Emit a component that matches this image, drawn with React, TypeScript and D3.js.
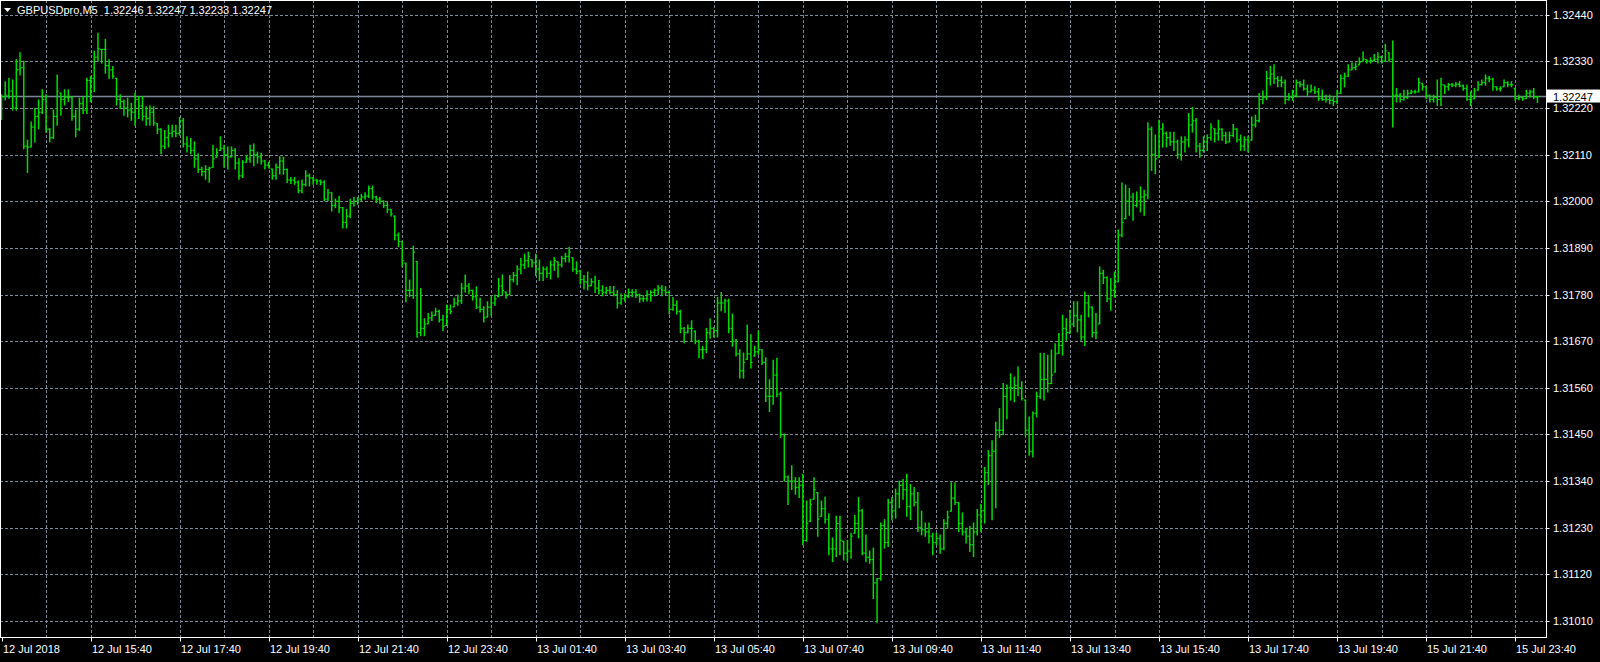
import React from 'react';
import * as d3 from 'd3';

// GBPUSDpro M5 bars (prices)
const symbol = 'GBPUSDpro,M5';
const lastQuote = ['1.32246', '1.32247', '1.32233', '1.32247'];
const bidPrice = 1.32247;
const firstOpen = 1.3223;

const highs = [
  1.32251, 1.32282, 1.32290, 1.32286, 1.32334, 1.32350, 1.32330, 1.32144, 1.32187, 1.32219,
  1.32239, 1.32263, 1.32251, 1.32171, 1.32215, 1.32298, 1.32255, 1.32263, 1.32263, 1.32247,
  1.32215, 1.32243, 1.32247, 1.32290, 1.32294, 1.32354, 1.32396, 1.32358, 1.32382, 1.32334,
  1.32318, 1.32290, 1.32251, 1.32239, 1.32243, 1.32231, 1.32255, 1.32247, 1.32247, 1.32223,
  1.32225, 1.32223, 1.32183, 1.32171, 1.32167, 1.32179, 1.32179, 1.32179, 1.32198, 1.32195,
  1.32152, 1.32148, 1.32140, 1.32112, 1.32080, 1.32084, 1.32080, 1.32132, 1.32124, 1.32152,
  1.32132, 1.32128, 1.32128, 1.32124, 1.32100, 1.32096, 1.32108, 1.32132, 1.32135, 1.32116,
  1.32113, 1.32096, 1.32092, 1.32076, 1.32088, 1.32105, 1.32104, 1.32076, 1.32056, 1.32056,
  1.32048, 1.32050, 1.32072, 1.32064, 1.32056, 1.32052, 1.32050, 1.32048, 1.32028, 1.32020,
  1.32005, 1.32012, 1.31985, 1.31981, 1.32005, 1.32009, 1.32009, 1.32016, 1.32020, 1.32036,
  1.32036, 1.32012, 1.32009, 1.32001, 1.31997, 1.31981, 1.31965, 1.31925, 1.31905, 1.31854,
  1.31814, 1.31894, 1.31858, 1.31794, 1.31723, 1.31735, 1.31739, 1.31747, 1.31743, 1.31731,
  1.31755, 1.31755, 1.31771, 1.31779, 1.31806, 1.31826, 1.31806, 1.31790, 1.31798, 1.31771,
  1.31751, 1.31763, 1.31775, 1.31779, 1.31818, 1.31826, 1.31786, 1.31825, 1.31832, 1.31848,
  1.31865, 1.31875, 1.31880, 1.31862, 1.31875, 1.31861, 1.31845, 1.31845, 1.31859, 1.31867,
  1.31857, 1.31870, 1.31877, 1.31891, 1.31867, 1.31857, 1.31837, 1.31825, 1.31833, 1.31817,
  1.31823, 1.31813, 1.31801, 1.31797, 1.31799, 1.31799, 1.31789, 1.31781, 1.31781, 1.31793,
  1.31791, 1.31791, 1.31781, 1.31777, 1.31789, 1.31789, 1.31793, 1.31801, 1.31801, 1.31799,
  1.31789, 1.31773, 1.31765, 1.31743, 1.31702, 1.31708, 1.31718, 1.31694, 1.31672, 1.31658,
  1.31700, 1.31722, 1.31702, 1.31773, 1.31785, 1.31769, 1.31769, 1.31734, 1.31674, 1.31650,
  1.31642, 1.31708, 1.31685, 1.31658, 1.31694, 1.31650, 1.31631, 1.31579, 1.31625, 1.31630,
  1.31550, 1.31451, 1.31352, 1.31376, 1.31348, 1.31348, 1.31356, 1.31293, 1.31297, 1.31348,
  1.31313, 1.31293, 1.31302, 1.31263, 1.31206, 1.31257, 1.31257, 1.31198, 1.31200, 1.31217,
  1.31259, 1.31301, 1.31273, 1.31213, 1.31175, 1.31182, 1.31110, 1.31241, 1.31249, 1.31297,
  1.31301, 1.31321, 1.31340, 1.31344, 1.31356, 1.31332, 1.31325, 1.31313, 1.31269, 1.31241,
  1.31241, 1.31217, 1.31217, 1.31213, 1.31249, 1.31269, 1.31336, 1.31336, 1.31289, 1.31265,
  1.31229, 1.31233, 1.31241, 1.31273, 1.31285, 1.31372, 1.31412, 1.31435, 1.31479, 1.31511,
  1.31570, 1.31566, 1.31593, 1.31585, 1.31609, 1.31574, 1.31531, 1.31491, 1.31503, 1.31550,
  1.31641, 1.31641, 1.31637, 1.31649, 1.31664, 1.31688, 1.31731, 1.31723, 1.31743, 1.31763,
  1.31763, 1.31731, 1.31786, 1.31778, 1.31751, 1.31735, 1.31845, 1.31837, 1.31822, 1.31818,
  1.31833, 1.31932, 1.32043, 1.32038, 1.32030, 1.32018, 1.32022, 1.32034, 1.32026, 1.32185,
  1.32175, 1.32156, 1.32191, 1.32183, 1.32163, 1.32163, 1.32163, 1.32144, 1.32152, 1.32152,
  1.32207, 1.32221, 1.32195, 1.32136, 1.32152, 1.32156, 1.32183, 1.32171, 1.32191, 1.32171,
  1.32163, 1.32163, 1.32181, 1.32171, 1.32156, 1.32152, 1.32152, 1.32199, 1.32203, 1.32254,
  1.32260, 1.32306, 1.32318, 1.32322, 1.32294, 1.32294, 1.32286, 1.32254, 1.32262, 1.32286,
  1.32282, 1.32286, 1.32274, 1.32274, 1.32270, 1.32266, 1.32262, 1.32250, 1.32250, 1.32246,
  1.32262, 1.32298, 1.32302, 1.32322, 1.32326, 1.32326, 1.32338, 1.32352, 1.32334, 1.32338,
  1.32346, 1.32350, 1.32342, 1.32370, 1.32350, 1.32378, 1.32266, 1.32254, 1.32262, 1.32262,
  1.32262, 1.32262, 1.32290, 1.32278, 1.32270, 1.32250, 1.32250, 1.32286, 1.32290, 1.32274,
  1.32278, 1.32278, 1.32280, 1.32282, 1.32274, 1.32274, 1.32258, 1.32266, 1.32282, 1.32286,
  1.32298, 1.32294, 1.32290, 1.32270, 1.32270, 1.32286, 1.32282, 1.32282, 1.32266, 1.32250,
  1.32246, 1.32262, 1.32262, 1.32266, 1.32247,
];

const lows = [
  1.32193, 1.32239, 1.32243, 1.32215, 1.32215, 1.32298, 1.32124, 1.32068, 1.32128, 1.32140,
  1.32171, 1.32207, 1.32163, 1.32140, 1.32148, 1.32179, 1.32203, 1.32227, 1.32235, 1.32191,
  1.32152, 1.32167, 1.32207, 1.32207, 1.32235, 1.32259, 1.32330, 1.32326, 1.32302, 1.32290,
  1.32290, 1.32227, 1.32219, 1.32203, 1.32199, 1.32191, 1.32179, 1.32195, 1.32191, 1.32179,
  1.32179, 1.32179, 1.32160, 1.32112, 1.32124, 1.32128, 1.32152, 1.32152, 1.32156, 1.32128,
  1.32116, 1.32112, 1.32080, 1.32068, 1.32060, 1.32052, 1.32045, 1.32080, 1.32104, 1.32120,
  1.32080, 1.32076, 1.32104, 1.32076, 1.32052, 1.32056, 1.32092, 1.32092, 1.32084, 1.32090,
  1.32088, 1.32076, 1.32080, 1.32052, 1.32052, 1.32064, 1.32064, 1.32044, 1.32042, 1.32040,
  1.32020, 1.32020, 1.32036, 1.32036, 1.32040, 1.32040, 1.32039, 1.32001, 1.32001, 1.31977,
  1.31985, 1.31973, 1.31937, 1.31937, 1.31961, 1.31989, 1.31993, 1.32001, 1.32005, 1.32009,
  1.32005, 1.31997, 1.31994, 1.31985, 1.31973, 1.31965, 1.31909, 1.31893, 1.31846, 1.31763,
  1.31775, 1.31771, 1.31679, 1.31683, 1.31683, 1.31711, 1.31719, 1.31731, 1.31715, 1.31695,
  1.31707, 1.31735, 1.31751, 1.31755, 1.31759, 1.31786, 1.31782, 1.31767, 1.31747, 1.31739,
  1.31715, 1.31727, 1.31731, 1.31755, 1.31775, 1.31779, 1.31771, 1.31780, 1.31810, 1.31803,
  1.31829, 1.31841, 1.31845, 1.31845, 1.31825, 1.31813, 1.31813, 1.31821, 1.31817, 1.31837,
  1.31821, 1.31845, 1.31857, 1.31857, 1.31835, 1.31829, 1.31805, 1.31793, 1.31791, 1.31801,
  1.31785, 1.31781, 1.31777, 1.31781, 1.31781, 1.31777, 1.31748, 1.31757, 1.31765, 1.31773,
  1.31775, 1.31773, 1.31762, 1.31764, 1.31765, 1.31764, 1.31777, 1.31780, 1.31777, 1.31780,
  1.31734, 1.31743, 1.31734, 1.31690, 1.31666, 1.31690, 1.31670, 1.31664, 1.31631, 1.31629,
  1.31643, 1.31677, 1.31680, 1.31680, 1.31742, 1.31738, 1.31690, 1.31658, 1.31635, 1.31583,
  1.31583, 1.31627, 1.31607, 1.31635, 1.31639, 1.31615, 1.31528, 1.31504, 1.31521, 1.31539,
  1.31443, 1.31340, 1.31285, 1.31320, 1.31309, 1.31301, 1.31190, 1.31198, 1.31245, 1.31297,
  1.31210, 1.31257, 1.31241, 1.31166, 1.31150, 1.31162, 1.31166, 1.31154, 1.31150, 1.31158,
  1.31217, 1.31206, 1.31166, 1.31150, 1.31146, 1.31063, 1.31007, 1.31106, 1.31182, 1.31186,
  1.31249, 1.31253, 1.31277, 1.31297, 1.31257, 1.31249, 1.31281, 1.31221, 1.31213, 1.31210,
  1.31194, 1.31166, 1.31190, 1.31170, 1.31178, 1.31229, 1.31269, 1.31285, 1.31221, 1.31213,
  1.31194, 1.31174, 1.31162, 1.31213, 1.31221, 1.31241, 1.31332, 1.31249, 1.31277, 1.31443,
  1.31450, 1.31487, 1.31531, 1.31527, 1.31542, 1.31531, 1.31448, 1.31401, 1.31397, 1.31491,
  1.31535, 1.31531, 1.31550, 1.31570, 1.31597, 1.31641, 1.31637, 1.31672, 1.31688, 1.31704,
  1.31692, 1.31672, 1.31660, 1.31727, 1.31680, 1.31676, 1.31711, 1.31806, 1.31763, 1.31743,
  1.31774, 1.31810, 1.31916, 1.31959, 1.31967, 1.31955, 1.31987, 1.31975, 1.31967, 1.32006,
  1.32073, 1.32065, 1.32104, 1.32128, 1.32128, 1.32132, 1.32120, 1.32101, 1.32097, 1.32116,
  1.32128, 1.32163, 1.32116, 1.32104, 1.32116, 1.32120, 1.32144, 1.32140, 1.32144, 1.32144,
  1.32136, 1.32140, 1.32152, 1.32140, 1.32120, 1.32120, 1.32116, 1.32144, 1.32175, 1.32187,
  1.32230, 1.32240, 1.32274, 1.32278, 1.32270, 1.32270, 1.32230, 1.32238, 1.32238, 1.32246,
  1.32270, 1.32262, 1.32250, 1.32258, 1.32254, 1.32238, 1.32238, 1.32234, 1.32230, 1.32226,
  1.32230, 1.32254, 1.32270, 1.32294, 1.32310, 1.32310, 1.32322, 1.32330, 1.32326, 1.32326,
  1.32330, 1.32326, 1.32326, 1.32330, 1.32330, 1.32175, 1.32234, 1.32234, 1.32238, 1.32242,
  1.32254, 1.32255, 1.32258, 1.32262, 1.32242, 1.32234, 1.32234, 1.32226, 1.32226, 1.32254,
  1.32262, 1.32270, 1.32270, 1.32270, 1.32262, 1.32238, 1.32226, 1.32242, 1.32262, 1.32274,
  1.32274, 1.32282, 1.32262, 1.32262, 1.32260, 1.32270, 1.32270, 1.32270, 1.32238, 1.32240,
  1.32238, 1.32242, 1.32246, 1.32242, 1.32233,
];

const closes = [
  1.32247, 1.32250, 1.32260, 1.32220, 1.32310, 1.32315, 1.32130, 1.32128, 1.32175, 1.32200,
  1.32210, 1.32240, 1.32170, 1.32150, 1.32200, 1.32260, 1.32240, 1.32245, 1.32245, 1.32200,
  1.32170, 1.32230, 1.32215, 1.32285, 1.32290, 1.32340, 1.32360, 1.32358, 1.32320, 1.32310,
  1.32295, 1.32240, 1.32235, 1.32220, 1.32215, 1.32210, 1.32240, 1.32225, 1.32200, 1.32195,
  1.32210, 1.32185, 1.32170, 1.32130, 1.32150, 1.32160, 1.32165, 1.32160, 1.32190, 1.32135,
  1.32130, 1.32120, 1.32100, 1.32075, 1.32070, 1.32075, 1.32078, 1.32100, 1.32115, 1.32125,
  1.32110, 1.32105, 1.32120, 1.32090, 1.32060, 1.32092, 1.32100, 1.32120, 1.32110, 1.32105,
  1.32095, 1.32085, 1.32078, 1.32060, 1.32080, 1.32095, 1.32075, 1.32050, 1.32050, 1.32045,
  1.32025, 1.32040, 1.32060, 1.32055, 1.32050, 1.32048, 1.32045, 1.32005, 1.32020, 1.31990,
  1.32000, 1.31985, 1.31950, 1.31965, 1.31995, 1.32000, 1.32005, 1.32010, 1.32012, 1.32030,
  1.32010, 1.32005, 1.32000, 1.31990, 1.31980, 1.31970, 1.31920, 1.31905, 1.31860, 1.31790,
  1.31790, 1.31880, 1.31690, 1.31700, 1.31710, 1.31725, 1.31730, 1.31740, 1.31720, 1.31705,
  1.31745, 1.31740, 1.31760, 1.31765, 1.31795, 1.31800, 1.31790, 1.31775, 1.31750, 1.31745,
  1.31725, 1.31750, 1.31760, 1.31770, 1.31800, 1.31790, 1.31780, 1.31815, 1.31825, 1.31840,
  1.31850, 1.31860, 1.31870, 1.31855, 1.31840, 1.31830, 1.31840, 1.31830, 1.31850, 1.31860,
  1.31850, 1.31865, 1.31870, 1.31880, 1.31840, 1.31835, 1.31815, 1.31810, 1.31800, 1.31810,
  1.31795, 1.31790, 1.31785, 1.31790, 1.31785, 1.31780, 1.31760, 1.31770, 1.31775, 1.31785,
  1.31785, 1.31780, 1.31770, 1.31770, 1.31780, 1.31785, 1.31790, 1.31795, 1.31790, 1.31785,
  1.31745, 1.31755, 1.31740, 1.31700, 1.31690, 1.31700, 1.31700, 1.31670, 1.31650, 1.31650,
  1.31690, 1.31700, 1.31695, 1.31760, 1.31760, 1.31765, 1.31700, 1.31670, 1.31640, 1.31600,
  1.31620, 1.31640, 1.31620, 1.31645, 1.31650, 1.31620, 1.31540, 1.31540, 1.31590, 1.31545,
  1.31450, 1.31350, 1.31340, 1.31340, 1.31325, 1.31330, 1.31200, 1.31240, 1.31285, 1.31320,
  1.31250, 1.31275, 1.31250, 1.31180, 1.31180, 1.31240, 1.31200, 1.31170, 1.31175, 1.31210,
  1.31240, 1.31270, 1.31170, 1.31160, 1.31155, 1.31100, 1.31110, 1.31235, 1.31195, 1.31290,
  1.31270, 1.31310, 1.31330, 1.31320, 1.31280, 1.31310, 1.31290, 1.31230, 1.31225, 1.31220,
  1.31210, 1.31195, 1.31205, 1.31180, 1.31240, 1.31255, 1.31300, 1.31290, 1.31240, 1.31220,
  1.31210, 1.31190, 1.31220, 1.31260, 1.31270, 1.31360, 1.31400, 1.31410, 1.31460, 1.31460,
  1.31540, 1.31560, 1.31560, 1.31565, 1.31560, 1.31535, 1.31460, 1.31410, 1.31500, 1.31540,
  1.31580, 1.31580, 1.31570, 1.31590, 1.31640, 1.31660, 1.31700, 1.31690, 1.31710, 1.31730,
  1.31720, 1.31680, 1.31760, 1.31750, 1.31690, 1.31690, 1.31830, 1.31820, 1.31770, 1.31790,
  1.31810, 1.31920, 1.31950, 1.32000, 1.32010, 1.31990, 1.32000, 1.32010, 1.32015, 1.32170,
  1.32110, 1.32100, 1.32170, 1.32160, 1.32150, 1.32140, 1.32140, 1.32110, 1.32140, 1.32145,
  1.32180, 1.32190, 1.32130, 1.32120, 1.32140, 1.32150, 1.32175, 1.32160, 1.32170, 1.32155,
  1.32140, 1.32155, 1.32170, 1.32145, 1.32130, 1.32145, 1.32140, 1.32180, 1.32190, 1.32240,
  1.32245, 1.32290, 1.32300, 1.32290, 1.32285, 1.32280, 1.32240, 1.32245, 1.32250, 1.32280,
  1.32275, 1.32265, 1.32258, 1.32262, 1.32258, 1.32242, 1.32240, 1.32240, 1.32238, 1.32235,
  1.32255, 1.32290, 1.32295, 1.32310, 1.32315, 1.32318, 1.32328, 1.32335, 1.32330, 1.32332,
  1.32335, 1.32340, 1.32330, 1.32355, 1.32335, 1.32250, 1.32250, 1.32240, 1.32245, 1.32255,
  1.32258, 1.32258, 1.32280, 1.32270, 1.32250, 1.32240, 1.32245, 1.32240, 1.32275, 1.32270,
  1.32275, 1.32274, 1.32276, 1.32272, 1.32266, 1.32240, 1.32240, 1.32260, 1.32275, 1.32280,
  1.32290, 1.32288, 1.32270, 1.32265, 1.32266, 1.32280, 1.32275, 1.32275, 1.32242, 1.32245,
  1.32242, 1.32255, 1.32258, 1.32246, 1.32247,
];

const priceTicks = [
  1.3244, 1.3233, 1.3222, 1.3211, 1.32, 1.3189, 1.3178, 1.3167, 1.3156, 1.3145, 1.3134,
  1.3123, 1.3112, 1.3101,
];

// one label every 24 bars (2 hours of M5)
const timeLabels = [
  '12 Jul 2018', '12 Jul 15:40', '12 Jul 17:40', '12 Jul 19:40', '12 Jul 21:40', '12 Jul 23:40',
  '13 Jul 01:40', '13 Jul 03:40', '13 Jul 05:40', '13 Jul 07:40', '13 Jul 09:40', '13 Jul 11:40',
  '13 Jul 13:40', '13 Jul 15:40', '13 Jul 17:40', '13 Jul 19:40', '15 Jul 21:40', '15 Jul 23:40',
];
const barsPerLabel = 24;
const barsPerGrid = 12;

const W = 1600;
const H = 662;
const plotRight = 1546.5;
const plotBottom = 637.5;
const FONT = '"Liberation Sans", Arial, sans-serif';
const BAR = '#00dc00';
const GRID = '#7d8898';
const FG = '#ffffff';

export default function App() {
  const n = closes.length;
  const x = d3.scaleLinear().domain([0, n - 1]).range([1.5, 1.5 + (n - 1) * 3.71]);
  const y = d3.scaleLinear().domain([1.3101, 1.3244]).range([621, 14.7]);
  const crisp = (v: number) => Math.round(v) + 0.5;

  const opens = closes.map((_, i) => {
    const o = i === 0 ? firstOpen : closes[i - 1];
    return Math.min(highs[i], Math.max(lows[i], o));
  });

  const gridXs = d3.range(0, n, barsPerGrid).map((i) => crisp(x(i)));
  const fmt = d3.format('.5f');

  return (
    <>
      <style>{`body{margin:0;background:#000}`}</style>
      <svg width={W} height={H} style={{ display: 'block', background: '#000' }} fontFamily={FONT}>
        <rect x={0} y={0} width={W} height={H} fill="#000" />
        {/* grid */}
        <g stroke={GRID} strokeWidth={1} strokeDasharray="3,2">
          {priceTicks.map((p) => (
            <line key={p} x1={0} x2={plotRight} y1={crisp(y(p))} y2={crisp(y(p))} />
          ))}
          {gridXs.map((gx, k) => (k === 0 ? null : <line key={gx} x1={gx} x2={gx} y1={0} y2={plotBottom} />))}
        </g>
        {/* bid line */}
        <line x1={0} x2={plotRight} y1={y(bidPrice)} y2={y(bidPrice)} stroke="#7b8797" strokeWidth={1.6} />
        {/* bars */}
        <g stroke={BAR} fill="none">
          {closes.map((c, i) => {
            const cx = x(i);
            return (
              <g key={i}>
                <line x1={cx} x2={cx} y1={y(highs[i]) - 0.5} y2={y(lows[i]) + 0.5} strokeWidth={1.5} />
                <line x1={cx - 1.6} x2={cx} y1={y(opens[i])} y2={y(opens[i])} strokeWidth={1.2} />
                <line x1={cx} x2={cx + 1.6} y1={y(c)} y2={y(c)} strokeWidth={1.2} />
              </g>
            );
          })}
        </g>
        {/* frame */}
        <rect x={0.5} y={0.5} width={plotRight - 0.5} height={plotBottom - 0.5} fill="none" stroke={FG} strokeWidth={1} />
        {/* price axis */}
        <g fontSize={11} fill={FG}>
          {priceTicks.map((p) => (
            <g key={p}>
              <line x1={plotRight} x2={plotRight + 3} y1={crisp(y(p))} y2={crisp(y(p))} stroke={FG} />
              <text x={1553} y={y(p) + 4}>{fmt(p)}</text>
            </g>
          ))}
        </g>
        <rect x={1547} y={y(bidPrice) - 7} width={53} height={13} fill="#fff" />
        <text x={1553} y={y(bidPrice) + 4} fontSize={11} fill="#000">{fmt(bidPrice)}</text>
        {/* time axis */}
        <g fontSize={11} fill={FG}>
          {timeLabels.map((t, k) => {
            const tx = crisp(x(k * barsPerLabel));
            return (
              <g key={t}>
                <line x1={tx} x2={tx} y1={plotBottom} y2={plotBottom + 4} stroke={FG} />
                <text x={tx + 0.5} y={653}>{t}</text>
              </g>
            );
          })}
        </g>
        {/* header */}
        <path d="M4,8 L11,8 L7.5,12 Z" fill={FG} />
        <text x={17} y={14} fontSize={11} fill={FG} xmlSpace="preserve">
          {`${symbol}  ${lastQuote.join(' ')}`}
        </text>
      </svg>
    </>
  );
}
